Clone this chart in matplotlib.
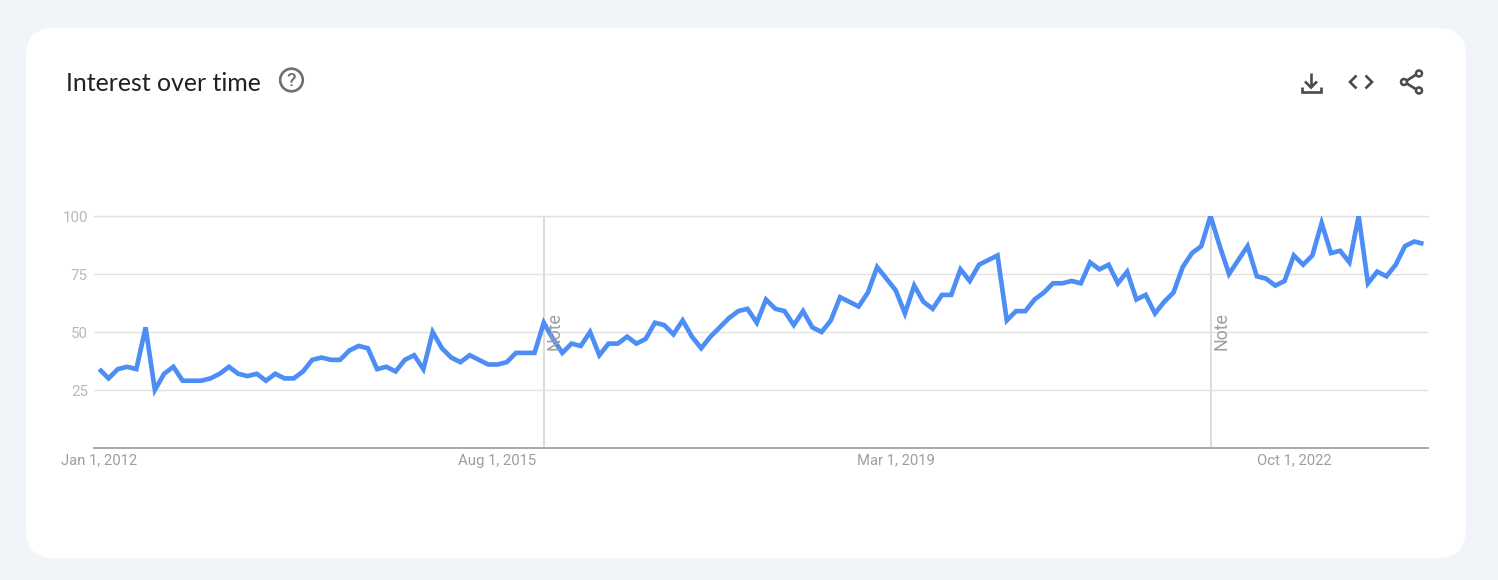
import matplotlib
matplotlib.use("Agg")
import matplotlib.pyplot as plt
from matplotlib.patches import FancyBboxPatch, Circle

values = [34,30,34,35,34,52,25,32,35,29,29,29,30,32,35,32,31,32,29,32,30,30,33,38,39,38,38,42,44,43,
          34,35,33,38,40,34,50,43,39,37,40,38,36,36,37,41,41,41,54,47,41,45,44,50,40,45,45,48,45,47,
          54,53,49,55,48,43,48,52,56,59,60,54,64,60,59,53,59,52,50,55,65,63,61,67,78,73,68,58,70,63,
          60,66,66,77,72,79,81,83,55,59,59,64,67,71,71,72,71,80,77,79,71,76,64,66,58,63,67,78,84,87,
          100,87,75,81,87,74,73,70,72,83,79,83,97,84,85,80,100,71,76,74,79,87,89,88]
x_positions = list(range(len(values)))
y_ticks = [25, 50, 75, 100]
x_tick_pos = [0, 43, 86, 129]
x_tick_labels = ["Jan 1, 2012", "Aug 1, 2015", "Mar 1, 2019", "Oct 1, 2022"]
note_pos = [48, 120]
title = "Interest over time"

W, H = 1498, 580
BLUE = "#4c8df6"
ICON = "#4a4a4a"
fig = plt.figure(figsize=(W/100, H/100), dpi=100, facecolor="#f1f4f9")

# page chrome, pixel coordinates
bg = fig.add_axes([0, 0, 1, 1])
bg.set_xlim(0, W); bg.set_ylim(H, 0); bg.axis("off")
bg.add_patch(FancyBboxPatch((54, 56), 1384, 474, boxstyle="round,pad=28,rounding_size=28",
                            fc="white", ec="none", zorder=0))
bg.text(66, 83.5, title, family="Lato", fontsize=17.9, color="#202124", va="center", ha="left")

# help icon
bg.add_patch(Circle((291.5, 80), 11.3, fc="none", ec="#6f6f6f", lw=1.9))
bg.text(291.5, 80.5, "?", family="Roboto", fontsize=14, weight="medium", color="#6f6f6f",
        ha="center", va="center")

def seg(xs, ys, lw=1.9):
    bg.plot(xs, ys, color=ICON, lw=lw, solid_capstyle="butt", solid_joinstyle="miter")

# download icon
seg([1311, 1311], [73, 87])
seg([1305, 1311, 1317], [81.5, 87.5, 81.5])
seg([1302, 1302, 1320.5, 1320.5], [87, 91.5, 91.5, 87])
# embed icon
seg([1356.5, 1350, 1356.5], [75.5, 82, 88.5])
seg([1365.5, 1372, 1365.5], [75.5, 82, 88.5])
# share icon
seg([1404.5, 1418], [82, 73.5])
seg([1404.5, 1418], [82, 90.5])
for cx, cy, r in [(1419, 73.5, 3.0), (1404, 82, 3.0), (1419, 90.5, 3.0)]:
    bg.add_patch(Circle((cx, cy), r, fc="white", ec=ICON, lw=1.8, zorder=4))

# chart
L, R, T, B = 94, 1428, 216, 448
X0, STEP = 99.3, 9.26
ax = fig.add_axes([L/W, 1-B/H, (R-L)/W, (B-T)/H])
ax.patch.set_alpha(0)
ax.set_xlim((L-X0)/STEP, (R-X0)/STEP)
ax.set_ylim(0, 100)
for s in ["top", "left", "right"]:
    ax.spines[s].set_visible(False)
ax.spines["bottom"].set_color("#a9a9a9")
ax.spines["bottom"].set_linewidth(1.4)
ax.set_yticks(y_ticks)
ax.set_xticks(x_tick_pos, x_tick_labels)
ax.tick_params(axis="both", length=0)
ax.tick_params(axis="x", pad=4, labelsize=10.75, labelcolor="#9e9e9e")
ax.tick_params(axis="y", pad=4.5, labelsize=10.85, labelcolor="#b5b9be")
for t in ax.get_xticklabels() + ax.get_yticklabels():
    t.set_family("Roboto")
ax.grid(axis="y", color="#e2e2e2", lw=1.0, zorder=1)
ax.axhline(100, color="#e2e2e2", lw=1.0, zorder=1, clip_on=False)
for n in note_pos:
    ax.axvline(n, color="#d2d2d2", lw=1.1, zorder=1)
ax.plot(x_positions, values, color=BLUE, lw=3.35, solid_joinstyle="miter",
        solid_capstyle="butt", zorder=3)
for n in note_pos:
    ax.annotate("Note", xy=(n, 0), xycoords=("data", "axes fraction"),
                xytext=(11*0.72, 0.72*98), textcoords="offset points",
                rotation=90, family="Roboto", fontsize=12.8, color="#9e9e9e",
                ha="center", va="bottom", zorder=4)

fig.savefig("out.png", dpi=100, facecolor=fig.get_facecolor())
